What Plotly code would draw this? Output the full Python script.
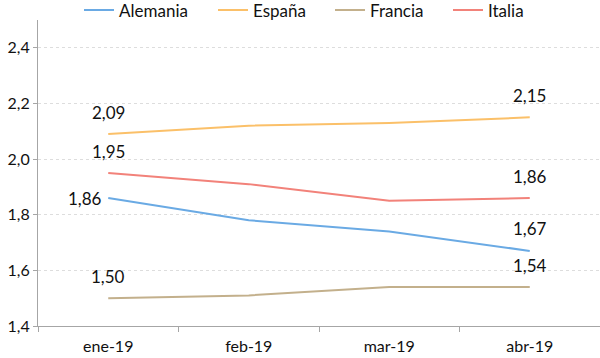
import plotly.graph_objects as go

categories = ["ene-19", "feb-19", "mar-19", "abr-19"]
alemania = [1.86, 1.78, 1.74, 1.67]
espana = [2.09, 2.12, 2.13, 2.15]
francia = [1.50, 1.51, 1.54, 1.54]
italia = [1.95, 1.91, 1.85, 1.86]

series = [
    ("Alemania", alemania, "#6aaae4"),
    ("España", espana, "#fbc069"),
    ("Francia", francia, "#c3b08c"),
    ("Italia", italia, "#f2827a"),
]
# legend text start (px) for each series
legend_text_x = [119, 253, 370, 488]

FONT = "Lato"
W, H = 600, 358

fig = go.Figure()
annotations = []
legends = {}
for k, (name, vals, color) in enumerate(series):
    lname = "legend" if k == 0 else f"legend{k + 1}"
    fig.add_trace(go.Scatter(
        x=categories, y=vals, name=name, mode="lines",
        line=dict(color=color, width=2), legend=lname,
    ))
    legends[lname] = dict(
        orientation="h", x=(legend_text_x[k] - 40) / W, xref="container", xanchor="left",
        y=1 - 10.5 / H, yref="container", yanchor="middle",
        font=dict(family=FONT, size=17, color="#111111"),
        bgcolor="rgba(0,0,0,0)", borderwidth=0,
    )
    for i in (0, len(vals) - 1):
        txt = f"{vals[i]:.2f}".replace(".", ",")
        if name == "Alemania" and i == 0:
            annotations.append(dict(x=categories[i], y=vals[i], text=txt, showarrow=False,
                                    xanchor="right", yanchor="middle", xshift=-4,
                                    font=dict(family=FONT, size=17, color="#111111")))
        else:
            annotations.append(dict(x=categories[i], y=vals[i], text=txt, showarrow=False,
                                    xanchor="center", yanchor="middle", yshift=22,
                                    font=dict(family=FONT, size=17, color="#111111")))

fig.update_layout(
    width=W, height=H,
    margin=dict(l=38, r=0, t=20, b=32, autoexpand=False),
    plot_bgcolor="white", paper_bgcolor="white",
    separators=",.",
    font=dict(family=FONT, size=16, color="#111111"),
    showlegend=True,
    annotations=annotations,
    **legends,
)
fig.update_xaxes(
    type="category", showgrid=False, showline=True, linecolor="#a6a6a6", linewidth=1,
    ticks="outside", tickson="boundaries", ticklen=5, tickcolor="#a6a6a6",
    tickfont=dict(family=FONT, size=16, color="#111111"),
    ticklabelstandoff=6,
    range=[-0.5, 3.5],
)
fig.update_yaxes(
    range=[1.4, 2.5], tick0=1.4, dtick=0.2, tickformat=".1f",
    showgrid=True, gridcolor="#dddddd", griddash="dot", gridwidth=1,
    showline=True, linecolor="#a6a6a6", linewidth=1,
    ticks="outside", ticklen=4, tickcolor="#a6a6a6",
    tickfont=dict(family=FONT, size=16, color="#111111"),
    zeroline=False,
)

fig.write_html("out.html", config={"displayModeBar": False},
               post_script="document.body.style.margin='0';")
